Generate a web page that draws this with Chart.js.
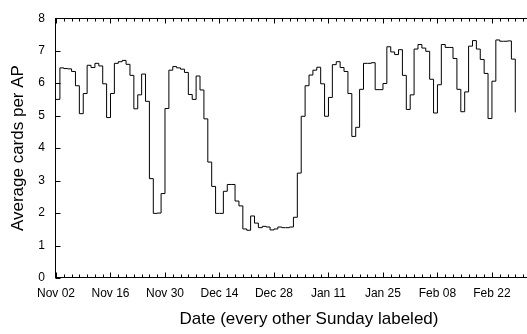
<!DOCTYPE html>
<html>
<head>
<meta charset="utf-8">
<script src="https://cdn.jsdelivr.net/npm/chart.js@4/dist/chart.umd.min.js"></script>
<style>
html, body { margin: 0; padding: 0; width: 527px; height: 334px; overflow: hidden; background: #fff; }
canvas { display: block; }
</style>
</head>
<body>
<canvas id="c" width="570" height="334" style="width:570px;height:334px"></canvas>
<script>
// Daily average cards per AP, starting Sunday Nov 02 (one value per day)
const values = [
  5.50, 6.47, 6.45, 6.44, 6.36, 5.92, 5.06, 5.68, 6.55, 6.48,
  6.61, 6.53, 5.98, 4.94, 5.68, 6.61, 6.66, 6.70, 6.58, 6.24,
  5.21, 5.64, 6.28, 5.44, 3.06, 1.99, 2.00, 2.60, 5.22, 6.40,
  6.51, 6.47, 6.43, 6.33, 5.65, 5.50, 6.22, 5.79, 4.90, 3.57,
  2.82, 1.99, 1.99, 2.67, 2.88, 2.88, 2.37, 2.22, 1.51, 1.47,
  1.91, 1.69, 1.55, 1.59, 1.57, 1.48, 1.51, 1.57, 1.55, 1.55,
  1.57, 1.87, 3.23, 4.98, 5.92, 6.25, 6.40, 6.49, 5.98, 4.98,
  5.56, 6.57, 6.66, 6.48, 6.36, 5.68, 4.36, 4.64, 5.81, 6.61,
  6.61, 6.63, 5.80, 5.80, 5.99, 7.12, 6.96, 6.88, 7.03, 6.24,
  5.19, 5.64, 7.05, 7.19, 7.08, 6.98, 6.12, 5.08, 5.95, 7.19,
  7.10, 7.10, 6.76, 5.81, 5.12, 5.73, 7.14, 7.31, 7.05, 6.73,
  6.30, 4.91, 6.06, 7.33, 7.29, 7.29, 7.30, 6.74, 5.10
];
// day offsets from Nov 02
const days = values.map((_, i) => i);
// labels for every other Sunday (every 14 days)
const tickLabels = ['Nov 02', 'Nov 16', 'Nov 30', 'Dec 14', 'Dec 28', 'Jan 11', 'Jan 25', 'Feb 08', 'Feb 22'];
const labelEvery = 14;
const minorTickStep = 2;
const xMaxDay = 130;
const yMin = 0, yMax = 8;

const FONT = "'Liberation Sans', Arial, Helvetica, sans-serif";

const framePlugin = {
  id: 'frame',
  afterDatasetsDraw(chart) {
    const { ctx, chartArea: a, scales: { x, y } } = chart;
    ctx.save();
    ctx.strokeStyle = '#000';
    ctx.lineWidth = 1;
    const L = Math.round(a.left) - 0.5, R = Math.round(a.right) - 0.5;
    const T = Math.round(a.top) + 0.5, B = Math.round(a.bottom) - 0.5;
    ctx.strokeRect(L, T, R - L, B - T);
    ctx.beginPath();
    x.ticks.forEach(t => {
      const px = Math.round(x.getPixelForValue(t.value)) + 0.5;
      const len = (t.value % labelEvery === 0) ? 5 : 3;
      ctx.moveTo(px, B); ctx.lineTo(px, B - len);
      ctx.moveTo(px, T); ctx.lineTo(px, T + len);
    });
    y.ticks.forEach(t => {
      const py = Math.round(y.getPixelForValue(t.value)) + 0.5;
      ctx.moveTo(L, py); ctx.lineTo(L + 5, py);
      ctx.moveTo(R, py); ctx.lineTo(R - 5, py);
    });
    ctx.stroke();
    ctx.restore();
  }
};

new Chart(document.getElementById('c'), {
  type: 'line',
  data: {
    datasets: [{
      data: days.map((d, i) => ({ x: d, y: values[i] })),
      stepped: 'before',
      borderColor: '#000',
      borderWidth: 1,
      pointRadius: 0,
      fill: false,
      tension: 0
    }]
  },
  options: {
    responsive: false,
    animation: false,
    layout: { padding: { left: 0, top: 11, right: 2.6, bottom: 0 } },
    plugins: { legend: { display: false }, tooltip: { enabled: false } },
    scales: {
      x: {
        type: 'linear',
        min: 0, max: xMaxDay,
        grid: { display: false, drawTicks: false },
        border: { display: false },
        ticks: {
          stepSize: minorTickStep,
          autoSkip: false,
          maxRotation: 0,
          padding: 8,
          color: '#000',
          font: { family: FONT, size: 12 },
          callback: v => (v % labelEvery === 0 && tickLabels[v / labelEvery]) ? tickLabels[v / labelEvery] : ''
        },
        title: {
          display: true,
          text: 'Date (every other Sunday labeled)',
          color: '#000',
          font: { family: FONT, size: 17 },
          padding: { top: 0, bottom: 4 }
        },
        afterFit: s => { s.height = 56; }
      },
      y: {
        min: yMin, max: yMax,
        grid: { display: false, drawTicks: false },
        border: { display: false },
        ticks: {
          stepSize: 1,
          padding: 11,
          color: '#000',
          font: { family: FONT, size: 12 }
        },
        title: {
          display: true,
          text: 'Average cards per AP',
          color: '#000',
          font: { family: FONT, size: 17 },
          padding: { top: 8, bottom: 0 }
        },
        afterFit: s => { s.width = 56; }
      }
    }
  },
  plugins: [framePlugin]
});
</script>
</body>
</html>
